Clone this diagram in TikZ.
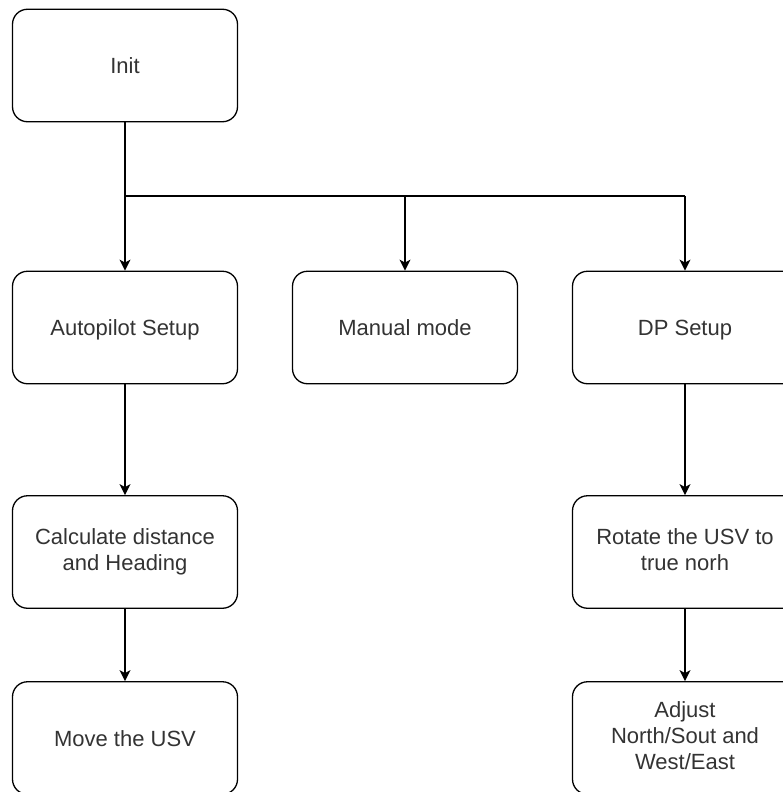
\documentclass[tikz,border=0pt]{standalone}
\usepackage{fontspec}
\setmainfont{Liberation Sans}
\usetikzlibrary{arrows.meta}

% invisible rules that balance the text around the middle of its capitals
\newcommand{\topstrut}{\rule{0pt}{21pt}}
\newcommand{\botstrut}{\rule[-5pt]{0pt}{5pt}}

\begin{document}
\begin{tikzpicture}[x=1pt, y=-1pt,
    stepbox/.style={draw=black, line width=1.3pt, rounded corners=15pt,
      minimum width=225pt, minimum height=112.5pt, inner sep=0pt,
      align=center, text=black!80,
      font=\fontsize{22}{26}\selectfont,
      execute at begin node=\topstrut, execute at end node=\botstrut},
    flow/.style={line width=1.3pt, draw=black},
    arrowed/.style={flow, -{Stealth[length=11pt, width=11pt, inset=3pt]}}]
  \useasboundingbox (0,0) rectangle (783,792);
  \clip (0,0) rectangle (783,792);

  % boxes
  \node[stepbox] (init)   at (125, 65.5)  {Init};
  \node[stepbox] (auto)   at (125, 327.5) {Autopilot Setup};
  \node[stepbox] (manual) at (405, 327.5) {Manual mode};
  \node[stepbox] (dp)     at (685, 327.5) {DP Setup};
  \node[stepbox] (calc)   at (125, 552)   {Calculate distance\\and Heading};
  \node[stepbox] (rotate) at (685, 552)   {Rotate the USV to\\true norh};
  \node[stepbox] (move)   at (125, 738)   {Move the USV};
  \node[stepbox] (adjust) at (685, 738)   {Adjust\\North/Sout and\\West/East};

  % branching bus below Init
  \coordinate (jl) at (125, 196);
  \coordinate (jm) at (405, 196);
  \coordinate (jr) at (685, 196);

  \draw[arrowed] (init) -- (auto);
  \draw[flow] (jl) -- (jr);
  \draw[arrowed] (jm) -- (manual);
  \draw[arrowed] (jr) -- (dp);

  % autopilot branch
  \draw[arrowed] (auto) -- (calc);
  \draw[arrowed] (calc) -- (move);

  % dynamic positioning branch
  \draw[arrowed] (dp) -- (rotate);
  \draw[arrowed] (rotate) -- (adjust);
\end{tikzpicture}
\end{document}
